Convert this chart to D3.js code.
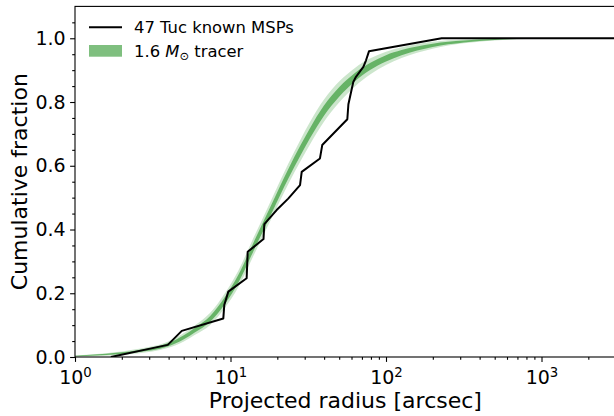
<!DOCTYPE html>
<html><head><meta charset="utf-8">
<script src="https://cdn.jsdelivr.net/npm/d3@7"></script>
<style>
body{margin:0;background:#fff}
svg{display:block}
text{font-family:"DejaVu Sans",sans-serif;fill:#000}
</style>
</head><body><svg id="c" width="614" height="416"></svg>
<script>
// ---- data ----
const mspRadius   = [1.70, 3.95, 4.86, 8.99, 9.12, 9.68, 12.7, 12.9, 16.3, 16.5, 19.8, 23.5, 28.0, 28.7, 37.6, 38.9, 56.4, 57.3, 61.6, 64.1, 71.5, 74.4, 77.7, 228, 3000];
const mspFraction = [0, 0.038, 0.082, 0.121, 0.163, 0.205, 0.247, 0.330, 0.370, 0.417, 0.461, 0.497, 0.539, 0.581, 0.623, 0.665, 0.746, 0.793, 0.863, 0.879, 0.910, 0.931, 0.959, 1.0, 1.0];

const modelRadius = [1, 1.585, 2.512, 3.945, 5.012, 5.916, 7.379, 9.226, 11.22, 14.03, 18.41, 23.55, 28.18, 32.43, 39.81, 50.12, 63.10, 79.43, 100, 125.9, 199.5, 316.2, 501.2, 794.3, 1585, 3000];
const modelMedian = [0.003, 0.008, 0.018, 0.038, 0.062, 0.085, 0.119, 0.178, 0.245, 0.345, 0.466, 0.575, 0.648, 0.702, 0.772, 0.832, 0.878, 0.912, 0.937, 0.955, 0.978, 0.990, 0.996, 0.999, 1.0, 1.0];
const innerHalf   = [0.001, 0.002, 0.003, 0.005, 0.006, 0.007, 0.009, 0.011, 0.012, 0.013, 0.014, 0.015, 0.016, 0.016, 0.016, 0.015, 0.013, 0.011, 0.010, 0.008, 0.005, 0.003, 0.0015, 0.0005, 0, 0];
const outerHalf   = [0.002, 0.004, 0.007, 0.010, 0.013, 0.015, 0.019, 0.023, 0.026, 0.028, 0.030, 0.032, 0.034, 0.035, 0.035, 0.033, 0.029, 0.025, 0.021, 0.017, 0.011, 0.006, 0.003, 0.001, 0, 0];

const xTickValues = [1, 10, 100, 1000];
const xTickExponents = ["0", "1", "2", "3"];
const yTickValues = [0, 0.2, 0.4, 0.6, 0.8, 1.0];
const yTickLabels = ["0.0", "0.2", "0.4", "0.6", "0.8", "1.0"];
const xLabel = "Projected radius [arcsec]";
const yLabel = "Cumulative fraction";
const legendLine = "47 Tuc known MSPs";
const legendBand = ["1.6 ", "M", "\u2299", " tracer"];

// ---- layout ----
const L = 75, R = 615.7, T = 6.4, B = 357;
const svg = d3.select("#c");
const x = d3.scaleLog().domain([1, 3000]).range([L, R]);
const y = d3.scaleLinear().domain([0, 1.1]).range([B, T]);

svg.append("defs").append("clipPath").attr("id", "clip")
  .append("rect").attr("x", L).attr("y", T).attr("width", R - L).attr("height", B - T);

const plot = svg.append("g").attr("clip-path", "url(#clip)");

const model = modelRadius.map((r, i) => ({r, m: modelMedian[i], a: innerHalf[i], b: outerHalf[i]}));
const clamp = v => Math.max(0, Math.min(1, v));

const outerArea = d3.area().curve(d3.curveMonotoneX)
  .x(d => x(d.r)).y0(d => y(clamp(d.m - d.b))).y1(d => y(clamp(d.m + d.b)));
const innerArea = d3.area().curve(d3.curveMonotoneX)
  .x(d => x(d.r)).y0(d => y(clamp(d.m - d.a))).y1(d => y(clamp(d.m + d.a)));

plot.append("path").datum(model).attr("d", outerArea).attr("fill", "green").attr("fill-opacity", 0.2);
plot.append("path").datum(model).attr("d", innerArea).attr("fill", "green").attr("fill-opacity", 0.5);

const msp = mspRadius.map((r, i) => ({r, f: mspFraction[i]}));
plot.append("path").datum(msp)
  .attr("d", d3.line().x(d => x(d.r)).y(d => y(d.f)))
  .attr("fill", "none").attr("stroke", "#000").attr("stroke-width", 2).attr("stroke-linejoin", "round");

// ---- axes ----
const majorLen = 4.9, minorLen = 2.8, tickW = 1.1;
const xMinor = [];
for (let p = 1; p <= 1000; p *= 10) for (let k = 2; k <= 9; k++) if (k * p <= 3000) xMinor.push(k * p);
const yMinor = d3.range(0, 22).map(i => i * 0.05).filter(v => Math.abs(v * 5 - Math.round(v * 5)) > 1e-6);

const gx = svg.append("g").attr("transform", `translate(0,${B})`)
  .call(d3.axisBottom(x).tickValues(xTickValues).tickSize(majorLen).tickSizeOuter(0).tickPadding(4.5).tickFormat(""));
gx.selectAll(".tick text").each(function(d, i) {
  const t = d3.select(this).attr("font-size", 19).attr("dy", "0.95em");
  t.append("tspan").text("10");
  t.append("tspan").attr("font-size", 13.3).attr("dy", "-0.55em").text(xTickExponents[i]);
});
svg.append("g").attr("transform", `translate(0,${B})`)
  .call(d3.axisBottom(x).tickValues(xMinor).tickSize(minorLen).tickSizeOuter(0).tickFormat(""));

const gy = svg.append("g").attr("transform", `translate(${L},0)`)
  .call(d3.axisLeft(y).tickValues(yTickValues).tickSize(majorLen).tickSizeOuter(0).tickPadding(4.5)
    .tickFormat((d, i) => yTickLabels[i]));
gy.selectAll(".tick text").attr("font-size", 19);
svg.append("g").attr("transform", `translate(${L},0)`)
  .call(d3.axisLeft(y).tickValues(yMinor).tickSize(minorLen).tickSizeOuter(0).tickFormat(""));

svg.selectAll(".domain").remove();
svg.selectAll(".tick line").attr("stroke", "#000").attr("stroke-width", tickW);
svg.selectAll(".tick text").attr("font-family", "DejaVu Sans").attr("fill", "#000");

// spines
svg.append("rect").attr("x", L).attr("y", T).attr("width", R - L).attr("height", B - T)
  .attr("fill", "none").attr("stroke", "#000").attr("stroke-width", 1.1);

// axis labels
svg.append("text").attr("x", (L + R) / 2).attr("y", 408).attr("text-anchor", "middle")
  .attr("font-size", 22).text(xLabel);
svg.append("text").attr("transform", `translate(27,${(T + B) / 2}) rotate(-90)`).attr("text-anchor", "middle")
  .attr("font-size", 22).text(yLabel);

// legend
const lg = svg.append("g");
lg.append("line").attr("x1", 89).attr("x2", 122).attr("y1", 27.3).attr("y2", 27.3)
  .attr("stroke", "#000").attr("stroke-width", 2);
lg.append("text").attr("x", 134).attr("y", 33.3).attr("font-size", 16.4).text(legendLine);
lg.append("rect").attr("x", 89).attr("y", 45).attr("width", 33).attr("height", 11.7)
  .attr("fill", "green").attr("fill-opacity", 0.5);
const t2 = lg.append("text").attr("x", 134).attr("y", 56.7).attr("font-size", 16.4);
t2.append("tspan").text(legendBand[0]);
t2.append("tspan").attr("font-style", "italic").text(legendBand[1]);
t2.append("tspan").attr("font-size", 11.5).attr("dy", 3).text(legendBand[2]);
t2.append("tspan").attr("dy", -3).text(legendBand[3]);
</script>
</body></html>
